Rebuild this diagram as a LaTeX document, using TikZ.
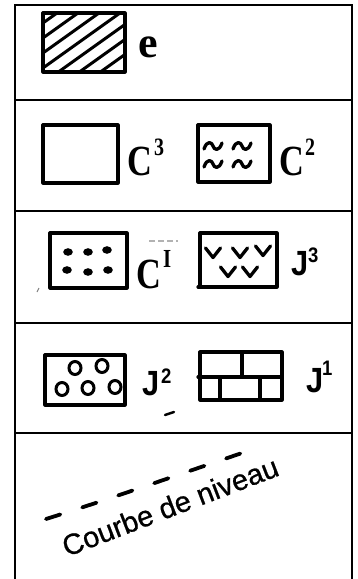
\documentclass[tikz,border=0pt]{standalone}
\usepackage{fontspec}
\newfontfamily\cserif[FakeStretch=0.8]{Liberation Serif}
\newfontfamily\pserif{Liberation Serif}
\newfontfamily\csans[FakeStretch=0.88]{Liberation Sans}
\newfontfamily\psans[FakeBold=0.7]{Liberation Sans}
\begin{document}
\begin{tikzpicture}[x=1pt,y=-1pt,
  frame/.style={line width=2.8pt},
  box/.style={line width=3.2pt, line join=round, line cap=round},
  glyph/.style={line width=3.3pt, line cap=round, line join=round},
  lbl/.style={inner sep=0pt, outer sep=0pt, anchor=base west},
  bigserif/.style={lbl, font=\cserif\bfseries\fontsize{43}{43}\selectfont},
  supserif/.style={lbl, font=\cserif\bfseries\fontsize{25}{25}\selectfont},
  bigsans/.style={lbl, font=\csans\bfseries\fontsize{35}{35}\selectfont},
  supsans/.style={lbl, font=\csans\bfseries\fontsize{21}{21}\selectfont}]
\useasboundingbox (0,0) rectangle (358,579);
\fill[white] (0,0) rectangle (358,579);
% table frame
\draw[frame] (15,579) -- (15,5) -- (352,5) -- (352,579);
\foreach \yy in {100,211,323,433} \draw[frame] (15,\yy) -- (352,\yy);

% row 1 : hatched box
\begin{scope}
  \clip (43,13) rectangle (125,72);
  \foreach \xo in {-6,15,36,57,78,99,120,141,162,183}
    \draw[line width=3pt] (\xo,13) -- (\xo-84,73);
\end{scope}
\draw[box] (43,13) rectangle (125,72);
\node[lbl, font=\pserif\bfseries\fontsize{44}{44}\selectfont] (e) at (138,57) {e};

% row 2 : empty box and wavy box
\draw[box] (43,125) rectangle (118,183);
\node[bigserif] (c3) at (127,175) {C};
\node[supserif] (c3s) at (154,155) {3};
\draw[box] (198,125) rectangle (270,182);
\foreach \cx/\cy in {213/146, 242/146, 213/164, 242/164}
  \draw[glyph] (\cx-9,\cy+3) .. controls (\cx-6,\cy-6) and (\cx-1,\cy-4) .. (\cx,\cy)
              .. controls (\cx+1,\cy+4) and (\cx+6,\cy+6) .. (\cx+9,\cy-3);
\node[bigserif] (c2) at (279,175) {C};
\node[supserif] (c2s) at (305,155) {2};

% row 3 : dotted box and V box
\draw[box] (50,233) rectangle (127,288);
\foreach \cx/\cy in {68/252, 88/252, 107/250, 67/270, 88/272, 108/270}
  \fill (\cx,\cy) ellipse (4.8pt and 3.8pt);
\node[bigserif] (c1) at (136,288) {C};
\node[lbl, font=\cserif\bfseries\fontsize{26}{26}\selectfont] (c1s) at (163,267) {I};
\draw[gray!60, line width=1.3pt, dash pattern=on 6pt off 3pt] (149,241) -- (178,241);
\draw[line width=1pt, gray] (37,292) -- (39,288);
\draw[box] (200,233) rectangle (277,287);
\draw[box] (198,287) -- (202,287);
\foreach \cx/\cy in {213/253, 240/253, 263/251, 228/272, 250/272}
  \draw[glyph] (\cx-7.5,\cy-5) -- (\cx,\cy+4.5) -- (\cx+7.5,\cy-5);
\node[bigsans] (j3) at (291,275) {J};
\node[supsans] (j3s) at (308,262) {3};

% row 4 : circles box and brick box
\draw[box] (45,355) rectangle (125,405);
\foreach \cx/\cy in {75/368, 102/366, 62/389, 88/388, 115/387}
  \draw[line width=3pt] (\cx,\cy) ellipse (6pt and 6.5pt);
\node[bigsans] (j2) at (142,395) {J};
\node[supsans] (j2s) at (161,383) {2};
\draw[box] (200,352) rectangle (282,400);
\draw[box] (198,377) -- (282,377);
\draw[box] (242,352) -- (242,377);
\draw[box] (220,377) -- (220,400);
\draw[box] (260,377) -- (260,400);
\node[bigsans] (j1) at (306,392) {J};
\node[supsans] (j1s) at (322,375) {1};
\draw[line width=2.4pt, line cap=round] (165,415) -- (174,412);

% row 5 : contour line
\draw[line width=3.8pt, line cap=round, dash pattern=on 15pt off 23pt]
  (46,519) .. controls (110,499) and (180,474) .. (245,452);
\node[lbl, font=\psans\fontsize{29}{29}\selectfont, rotate=21] (cdn) at (67,557) {Courbe de niveau};
\end{tikzpicture}
\end{document}
